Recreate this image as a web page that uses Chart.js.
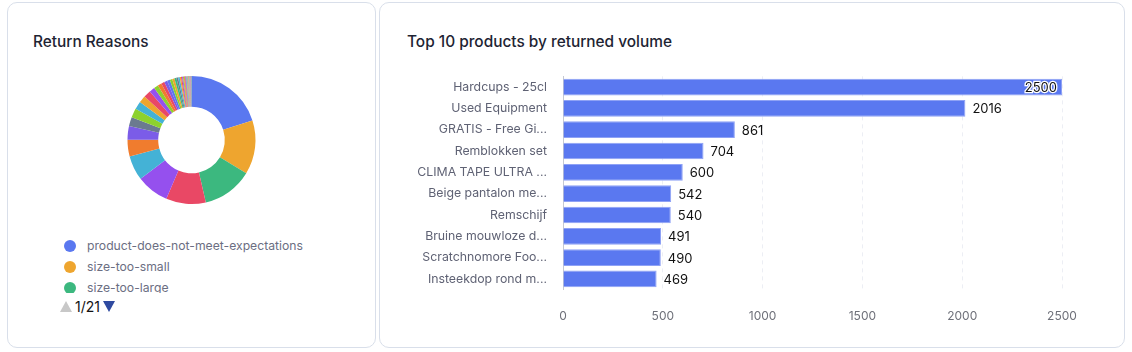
<!DOCTYPE html>
<html>
<head>
<meta charset="utf-8">
<script src="https://cdn.jsdelivr.net/npm/chart.js@4.4.1/dist/chart.umd.min.js"></script>
<style>
  body { margin: 0; background: #fff; font-family: Inter, "Noto Sans", sans-serif; }
  .card { position: absolute; top: 2px; height: 346px; border: 1px solid #d9dfea; border-radius: 10px; background: #fff; box-sizing: border-box; }
  #left { left: 7px; width: 369px; }
  #right { left: 379px; width: 746px; }
  .title { position: absolute; top: 29px; font-size: 15.4px; font-weight: 500; color: #1e2433; }
  #left .title { left: 25px; }
  #right .title { left: 27px; }
  #legend { position: absolute; left: 52px; top: 232px; width: 300px; height: 58px; overflow: hidden; }
  .item { height: 21px; display: flex; align-items: center; font-size: 12.2px; color: #6b6e82; }
  .dot { width: 12px; height: 12px; border-radius: 50%; margin-left: 4px; margin-right: 11px; }
  #pager { position: absolute; left: 52px; top: 295px; display: flex; align-items: center; font-size: 14px; color: #111; }
  .up { width: 0; height: 0; border-left: 6px solid transparent; border-right: 6px solid transparent; border-bottom: 11px solid #c8c8c8; margin-right: 3px; }
  .down { width: 0; height: 0; border-left: 6px solid transparent; border-right: 6px solid transparent; border-top: 11px solid #2f4aa0; margin-left: 3px; }
</style>
</head>
<body>
<div class="card" id="left">
  <div class="title">Return Reasons</div>
  <div style="position:absolute; left:0; top:58px; width:367px; height:158px;"><canvas id="pie"></canvas></div>
  <div id="legend"></div>
  <div id="pager"><div class="up"></div><span id="pageText"></span><div class="down"></div></div>
</div>
<div class="card" id="right">
  <div class="title">Top 10 products by returned volume</div>
  <div style="position:absolute; left:1px; top:58px; width:742px; height:283px;"><canvas id="bars"></canvas></div>
</div>
<script>
// return reasons (sorted, biggest first)
var reasons = [
  "product-does-not-meet-expectations", "size-too-small", "size-too-large", "damaged-on-arrival",
  "wrong-item-received", "changed-mind", "defective-product", "quality-not-as-expected",
  "color-different-than-expected", "arrived-too-late", "ordered-multiple-sizes", "not-as-described",
  "missing-parts", "better-price-elsewhere", "no-longer-needed", "ordered-by-mistake",
  "packaging-damaged", "duplicate-order", "gift-not-wanted", "fit-issue",
  "material-issue", "uncomfortable", "too-heavy", "too-light",
  "incompatible", "stopped-working", "scratched", "broken-seal",
  "wrong-quantity", "wrong-color", "wrong-model", "late-delivery",
  "bad-smell", "poor-fit-shoulders", "poor-fit-waist", "sleeves-too-long",
  "sleeves-too-short", "too-tight", "too-loose", "fabric-too-thin",
  "fabric-too-thick", "stain-on-item", "loose-threads", "zipper-broken",
  "button-missing", "print-faded", "description-unclear", "images-misleading",
  "customer-not-home", "address-unknown", "refused-delivery", "warranty-claim",
  "replacement", "trial-period-ended", "subscription-cancelled", "expired-product",
  "allergic-reaction", "noise", "battery-issue", "software-issue",
  "other", "unknown"
];
var reasonCounts = [
  600, 408, 381, 300, 246, 186, 126, 102, 69, 69, 60, 54,
  54, 42, 33, 29, 25, 23, 21, 19, 17, 15, 13, 12,
  10, 8, 7, 7, 6, 5, 4, 4, 3, 2, 2, 2,
  2, 2, 2, 1, 1, 1, 1, 1, 1, 1, 1, 1,
  1, 1, 1, 1, 1, 1, 1, 1, 1, 1, 1, 1,
  1, 1
];
// top 10 products
var products = [
  "Hardcups - 25cl", "Used Equipment", "GRATIS - Free Gi...", "Remblokken set",
  "CLIMA TAPE ULTRA ...", "Beige pantalon me...", "Remschijf", "Bruine mouwloze d...",
  "Scratchnomore Foo...", "Insteekdop rond m..."
];
var returnedVolume = [2500, 2016, 861, 704, 600, 542, 540, 491, 490, 469];
var volumeTicks = [0, 500, 1000, 1500, 2000, 2500];

var mainColors = ["#5a78f0", "#eea52f", "#3cb87f", "#e94865", "#9550ee", "#44b2d6", "#f07c2e", "#7b5ce8", "#6b7a90", "#8dd12e"];
var minorColors = ["#44b2d6", "#eea52f", "#e94865", "#9550ee", "#8dd12e", "#f07c2e", "#e94865", "#7b5ce8", "#5a78f0", "#8dd12e", "#eea52f", "#3cb87f", "#6b7a90"];
var sliceColors = reasons.map(function (r, i) {
  return i < mainColors.length ? mainColors[i] : minorColors[(i - mainColors.length) % minorColors.length];
});

Chart.defaults.font.family = "Inter, 'Noto Sans', sans-serif";
Chart.defaults.animation = false;

new Chart(document.getElementById('pie'), {
  type: 'doughnut',
  data: {
    labels: reasons,
    datasets: [{ data: reasonCounts, backgroundColor: sliceColors, borderWidth: 0 }]
  },
  options: {
    responsive: true,
    maintainAspectRatio: false,
    radius: 64,
    cutout: '52%',
    plugins: { legend: { display: false }, tooltip: { enabled: false } }
  }
});

// html legend, first page only (3 per page)
var perPage = 3;
var legend = document.getElementById('legend');
reasons.slice(0, perPage).forEach(function (r, i) {
  legend.innerHTML += "<div class='item'><div class='dot' style='background:" + sliceColors[i] + "'></div>" + r + "</div>";
});
document.getElementById('pageText').textContent = "1/" + Math.ceil(reasons.length / perPage);

// value labels next to the bars
var valueLabels = {
  id: 'valueLabels',
  afterDatasetsDraw: function (chart) {
    var ctx = chart.ctx;
    var area = chart.chartArea;
    var meta = chart.getDatasetMeta(0);
    ctx.save();
    ctx.font = "13px Inter, 'Noto Sans', sans-serif";
    ctx.textBaseline = 'middle';
    meta.data.forEach(function (bar, i) {
      var txt = String(chart.data.datasets[0].data[i]);
      var w = ctx.measureText(txt).width;
      if (bar.x + 7 + w > area.right) {
        // no room: draw inside the bar end with a white halo
        ctx.textAlign = 'right';
        ctx.lineWidth = 2.5;
        ctx.strokeStyle = '#fff';
        ctx.strokeText(txt, bar.x - 5, bar.y + 1);
        ctx.fillStyle = '#111';
        ctx.fillText(txt, bar.x - 5, bar.y + 1);
      } else {
        ctx.textAlign = 'left';
        ctx.fillStyle = '#111';
        ctx.fillText(txt, bar.x + 7, bar.y + 1);
      }
    });
    ctx.restore();
  }
};

new Chart(document.getElementById('bars'), {
  type: 'bar',
  data: {
    labels: products,
    datasets: [{
      data: returnedVolume,
      backgroundColor: '#5a78f0',
      borderColor: '#8fa2f5',
      borderWidth: 1,
      barPercentage: 0.9,
      categoryPercentage: 0.87
    }]
  },
  options: {
    indexAxis: 'y',
    responsive: true,
    maintainAspectRatio: false,
    layout: { padding: { top: 10, right: 61, bottom: 0, left: 0 } },
    scales: {
      x: {
        min: 0,
        max: 2500,
        afterBuildTicks: function (scale) {
          scale.ticks = volumeTicks.map(function (v) { return { value: v }; });
        },
        grid: { color: '#eceef4', drawTicks: false },
        border: { display: false, dash: [4, 4] },
        ticks: {
          color: '#6e7079', font: { size: 12 }, padding: 20,
          callback: function (v) { return String(v); }
        }
      },
      y: {
        grid: { display: false },
        border: { display: true, color: '#c5c9d3' },
        afterFit: function (scale) { scale.width = 182; },
        ticks: { color: '#5f6274', font: { size: 12.3 }, padding: 8 }
      }
    },
    plugins: { legend: { display: false }, tooltip: { enabled: false } }
  },
  plugins: [valueLabels]
});
</script>
</body>
</html>
